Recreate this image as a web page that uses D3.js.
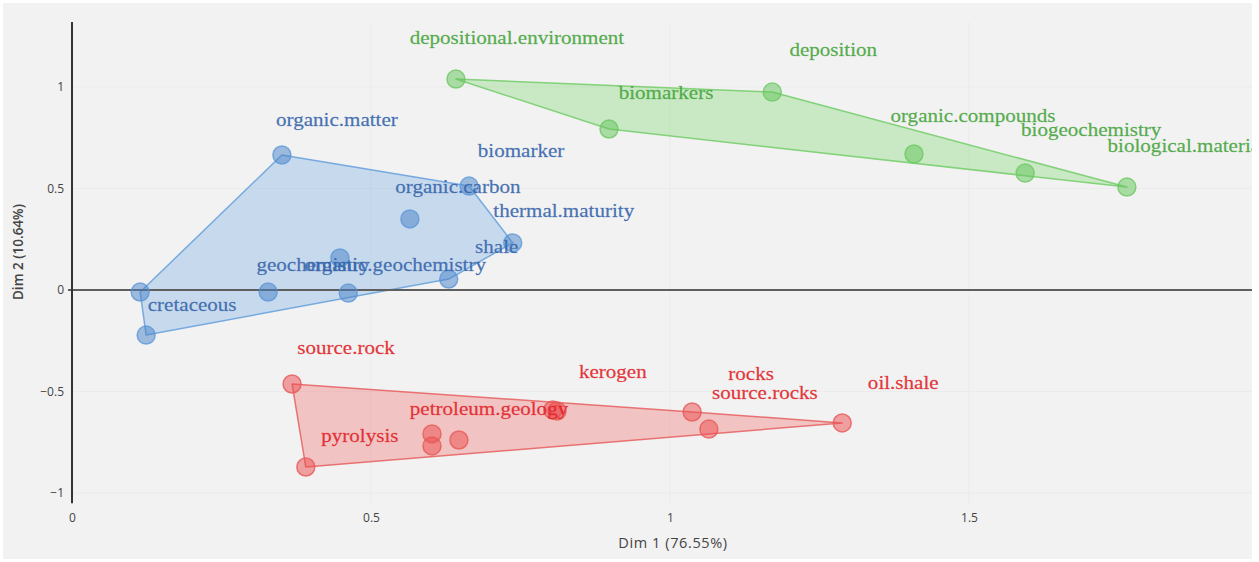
<!DOCTYPE html>
<html>
<head>
<meta charset="utf-8">
<script src="https://cdn.jsdelivr.net/npm/d3@7"></script>
<style>
  html, body { margin: 0; padding: 0; background: #ffffff; }
  svg { display: block; }
</style>
</head>
<body>
<svg id="chart" width="1259" height="562"></svg>
<script>
// Term coordinates on the first two dimensions, one set of arrays per cluster.
const blueTerms = ["organic.matter", "biomarker", "organic.carbon", "thermal.maturity", "shale",
                   "geochemistry", "organic.geochemistry", "cretaceous", null, null];
const blueDim1  = [0.351, 0.664, 0.565, 0.737, 0.630, 0.328, 0.462, 0.124, 0.114, 0.448];
const blueDim2  = [0.665, 0.512, 0.350, 0.232, 0.054, -0.010, -0.015, -0.222, -0.010, 0.158];

const greenTerms = ["depositional.environment", "deposition", "biomarkers", "organic.compounds",
                    "biogeochemistry", "biological.materials"];
const greenDim1  = [0.642, 1.171, 0.898, 1.408, 1.594, 1.764];
const greenDim2  = [1.039, 0.975, 0.793, 0.670, 0.576, 0.507];

const redTerms = ["source.rock", "pyrolysis", "petroleum.geology", null, null, "kerogen", null,
                  "rocks", "source.rocks", "oil.shale"];
const redDim1  = [0.368, 0.391, 0.602, 0.602, 0.647, 0.804, 0.811, 1.037, 1.065, 1.288];
const redDim2  = [-0.463, -0.872, -0.768, -0.709, -0.739, -0.591, -0.596, -0.601, -0.685, -0.655];

const dim1Ticks = [0, 0.5, 1, 1.5];
const dim2Ticks = [-1, -0.5, 0, 0.5, 1];
const dim1Title = "Dim 1 (76.55%)";
const dim2Title = "Dim 2 (10.64%)";

// Pixel nudges that keep the labels clear of their points.
const labelNudge = {
  "organic.matter": [55, -35], "biomarker": [52, -35], "organic.carbon": [48, -32],
  "thermal.maturity": [51, -32], "shale": [48, -32], "geochemistry": [45, -27],
  "organic.geochemistry": [47, -28], "cretaceous": [46, -30],
  "depositional.environment": [61, -41], "deposition": [61, -42], "biomarkers": [57, -36],
  "organic.compounds": [59, -38], "biogeochemistry": [66, -43], "biological.materials": [64, -41],
  "source.rock": [54, -36], "pyrolysis": [54, -31], "petroleum.geology": [57, -37],
  "kerogen": [60, -38], "rocks": [59, -38], "source.rocks": [56, -36], "oil.shale": [61, -40]
};

const clusters = [
  { terms: blueTerms,  d1: blueDim1,  d2: blueDim2,
    text: "#3867ad", hullFill: "rgba(110,165,225,0.32)", hullStroke: "rgba(100,160,220,0.85)",
    dotFill: "rgba(70,130,200,0.5)", dotStroke: "rgba(90,150,215,0.75)" },
  { terms: greenTerms, d1: greenDim1, d2: greenDim2,
    text: "#48a63e", hullFill: "rgba(125,215,115,0.36)", hullStroke: "rgba(115,205,105,0.85)",
    dotFill: "rgba(95,195,85,0.5)", dotStroke: "rgba(110,200,100,0.8)" },
  { terms: redTerms,   d1: redDim1,   d2: redDim2,
    text: "#e2262b", hullFill: "rgba(240,110,110,0.36)", hullStroke: "rgba(230,95,95,0.85)",
    dotFill: "rgba(235,75,75,0.5)", dotStroke: "rgba(230,90,90,0.8)" }
];

const svg = d3.select("#chart");
const sans = "'Open Sans', 'Liberation Sans', sans-serif";

// Panel background
svg.append("rect").attr("x", 3).attr("y", 3).attr("width", 1249).attr("height", 556)
  .attr("fill", "#f2f2f2");

const x = d3.scaleLinear().domain([0, 1]).range([72, 670]);
const y = d3.scaleLinear().domain([0, 1]).range([290, 87]);

// Faint grid, only really noticeable through the hull fills
const grid = svg.append("g").attr("stroke", "#ebebeb").attr("stroke-width", 1);
dim1Ticks.filter(v => v !== 0).forEach(v => {
  grid.append("line").attr("x1", x(v)).attr("x2", x(v)).attr("y1", y(1.32)).attr("y2", y(-1.05));
});
dim2Ticks.filter(v => v !== 0).forEach(v => {
  grid.append("line").attr("x1", x(0)).attr("x2", 1252).attr("y1", y(v)).attr("y2", y(v));
});

// Convex hulls of each cluster
const hullLayer = svg.append("g");
clusters.forEach(c => {
  const pts = c.d1.map((v, i) => [x(v), y(c.d2[i])]);
  const hull = d3.polygonHull(pts);
  hullLayer.append("path")
    .attr("d", "M" + hull.join("L") + "Z")
    .attr("fill", c.hullFill)
    .attr("stroke", c.hullStroke)
    .attr("stroke-width", 1.5)
    .attr("stroke-linejoin", "round");
});

// Zero line on Dim 2
svg.append("line").attr("x1", 68).attr("x2", 1252).attr("y1", y(0)).attr("y2", y(0))
  .attr("stroke", "#5f5f5f").attr("stroke-width", 2);

// Dim 2 axis
const yAxis = d3.axisLeft(y).tickValues(dim2Ticks).tickSize(0).tickPadding(8)
  .tickFormat(d3.format("~g"));
const yG = svg.append("g").attr("transform", `translate(${x(0)},0)`).call(yAxis);
yG.select(".domain").remove();
yG.selectAll("text").attr("font-family", sans).attr("font-size", 12).attr("fill", "#444");
svg.append("line").attr("x1", x(0)).attr("x2", x(0)).attr("y1", y(1.32)).attr("y2", y(-1.05))
  .attr("stroke", "#333").attr("stroke-width", 2);

// Dim 1 axis
const xAxis = d3.axisBottom(x).tickValues(dim1Ticks).tickSize(0).tickPadding(10)
  .tickFormat(d3.format("~g"));
const xG = svg.append("g").attr("transform", `translate(0,${y(-1.05)})`).call(xAxis);
xG.select(".domain").remove();
xG.selectAll("text").attr("font-family", sans).attr("font-size", 12).attr("fill", "#444");

// Axis titles
svg.append("text").attr("x", 673).attr("y", 548).attr("text-anchor", "middle")
  .attr("font-family", sans).attr("font-size", 14.5).attr("letter-spacing", 0.6)
  .attr("fill", "#444").text(dim1Title);
svg.append("text").attr("transform", "translate(23,252) rotate(-90)").attr("text-anchor", "middle")
  .attr("font-family", sans).attr("font-size", 13.5).attr("font-weight", 600)
  .attr("fill", "#444").text(dim2Title);

// Points
const dotLayer = svg.append("g");
clusters.forEach(c => {
  dotLayer.selectAll(null).data(c.d1.map((v, i) => ({ d1: v, d2: c.d2[i] })))
    .join("circle")
    .attr("cx", d => x(d.d1)).attr("cy", d => y(d.d2)).attr("r", 9)
    .attr("fill", c.dotFill).attr("stroke", c.dotStroke).attr("stroke-width", 1.5);
});

// Term labels
const labelLayer = svg.append("g")
  .attr("font-family", "'Liberation Serif', 'Times New Roman', serif")
  .attr("font-size", 18);
clusters.forEach(c => {
  const rows = c.terms.map((t, i) => ({ t, d1: c.d1[i], d2: c.d2[i] })).filter(r => r.t);
  labelLayer.selectAll(null).data(rows).join("text")
    .attr("transform", r => {
      const n = labelNudge[r.t] || [50, -35];
      return `translate(${x(r.d1) + n[0]},${y(r.d2) + n[1]}) scale(1.17,1)`;
    })
    .attr("text-anchor", "middle")
    .attr("dominant-baseline", "central")
    .attr("fill", c.text)
    .attr("stroke", c.text)
    .attr("stroke-width", 0.35)
    .attr("fill-opacity", 0.92)
    .attr("stroke-opacity", 0.6)
    .text(r => r.t);
});

// White margin at the right edge clips the last label
svg.append("rect").attr("x", 1252).attr("y", 0).attr("width", 7).attr("height", 562).attr("fill", "#ffffff");
</script>
</body>
</html>
